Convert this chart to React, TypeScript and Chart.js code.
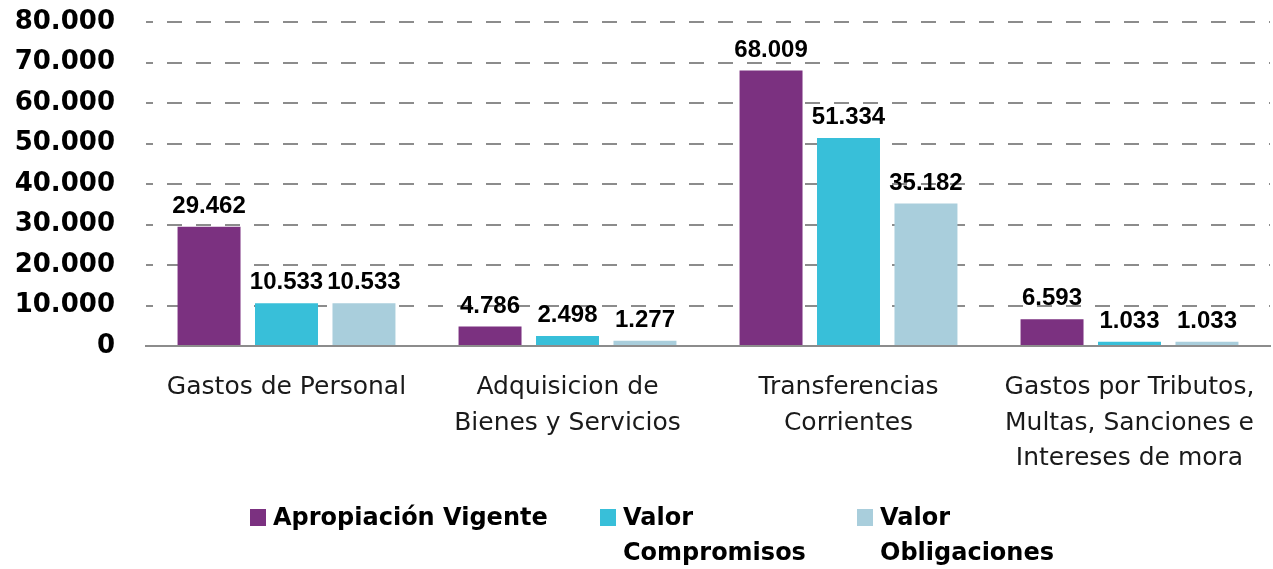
import React, { useEffect, useRef } from "react";
import { Chart, registerables } from "chart.js";

Chart.register(...registerables);

const categories: (string | string[])[] = [
  "Gastos de Personal",
  ["Adquisicion de", "Bienes y Servicios"],
  ["Transferencias", "Corrientes"],
  ["Gastos por Tributos,", "Multas, Sanciones e", "Intereses de mora"],
];
const seriesNames = ["Apropiación Vigente", "Valor Compromisos", "Valor Obligaciones"];
const apropiacionVigente = [29462, 4786, 68009, 6593];
const valorCompromisos = [10533, 2498, 51334, 1033];
const valorObligaciones = [10533, 1277, 35182, 1033];
const yMin = 0;
const yMax = 80000;
const yStep = 10000;
const colors = ["#7B3180", "#38BFD9", "#A9CEDC"];

const fmt = (n: number) => String(Math.round(n)).replace(/\B(?=(\d{3})+(?!\d))/g, ".");

const FONT = '"DejaVu Sans", sans-serif';
const LABEL_FONT = '"Liberation Sans", Arial, sans-serif';

const valueLabels = {
  id: "valueLabels",
  afterDatasetsDraw(chart: any) {
    const ctx = chart.ctx;
    ctx.save();
    ctx.font = `bold 24px ${LABEL_FONT}`;
    ctx.fillStyle = "#000";
    ctx.textAlign = "center";
    ctx.textBaseline = "alphabetic";
    chart.data.datasets.forEach((ds: any, i: number) => {
      const meta = chart.getDatasetMeta(i);
      meta.data.forEach((el: any, j: number) => {
        ctx.fillText(fmt(ds.data[j]), el.x, el.y - 14);
      });
    });
    ctx.restore();
  },
};

export default function App() {
  const ref = useRef<HTMLCanvasElement | null>(null);

  useEffect(() => {
    document.body.style.margin = "0";
    if (!ref.current) return;
    const chart = new Chart(ref.current, {
      type: "bar",
      data: {
        labels: categories,
        datasets: [apropiacionVigente, valorCompromisos, valorObligaciones].map((d, i) => ({
          label: seriesNames[i],
          data: d,
          backgroundColor: colors[i],
          borderWidth: 0,
          categoryPercentage: 0.827,
          barPercentage: 0.813,
        })),
      },
      options: {
        responsive: false,
        animation: false,
        layout: { padding: { left: 0, right: 3, top: 22, bottom: 90 } },
        plugins: {
          legend: { display: false },
          tooltip: { enabled: false },
        },
        scales: {
          x: {
            grid: { display: false },
            border: { display: true, color: "#8c8c8c", width: 2 },
            ticks: {
              color: "#1a1a1a",
              font: { family: FONT, size: 25, lineHeight: 1.42 },
              padding: 16,
              maxRotation: 0,
              minRotation: 0,
              autoSkip: false,
            },
            afterFit: (scale: any) => {
              scale.height = 133;
            },
          },
          y: {
            min: yMin,
            max: yMax,
            grid: {
              color: (c: any) => (c.tick && c.tick.value === 0 ? "rgba(0,0,0,0)" : "#8c8c8c"),
              lineWidth: 2,
              drawTicks: false,
            },
            border: { display: false, dash: [15, 14], dashOffset: 8 },
            ticks: {
              stepSize: yStep,
              color: "#000",
              font: { family: FONT, size: 26, weight: "bold" },
              padding: 31,
              callback: (v: any) => fmt(Number(v)),
            },
            afterFit: (scale: any) => {
              scale.width = 146;
              scale.paddingTop = 0;
              scale.paddingBottom = 0;
            },
          },
        },
      },
      plugins: [valueLabels],
    } as any);
    return () => chart.destroy();
  }, []);

  const legendPos = [
    { left: 250, width: 330, nowrap: true },
    { left: 600, width: 215, nowrap: false },
    { left: 857, width: 215, nowrap: false },
  ];

  return (
    <div style={{ position: "relative", width: 1273, height: 569, background: "#fff" }}>
      <canvas ref={ref} width={1273} height={569} style={{ display: "block" }} />
      {seriesNames.map((name, i) => (
        <div
          key={name}
          style={{
            position: "absolute",
            left: legendPos[i].left,
            top: 500,
            width: legendPos[i].width,
            display: "flex",
            alignItems: "flex-start",
            fontFamily: FONT,
            fontWeight: "bold",
            fontSize: 24,
            lineHeight: "35px",
            color: "#000",
          }}
        >
          <span
            style={{
              display: "inline-block",
              width: 16,
              height: 17,
              marginTop: 9,
              marginRight: 7,
              background: colors[i],
              flex: "0 0 auto",
            }}
          />
          <span style={{ whiteSpace: legendPos[i].nowrap ? "nowrap" : "normal" }}>{name}</span>
        </div>
      ))}
    </div>
  );
}
